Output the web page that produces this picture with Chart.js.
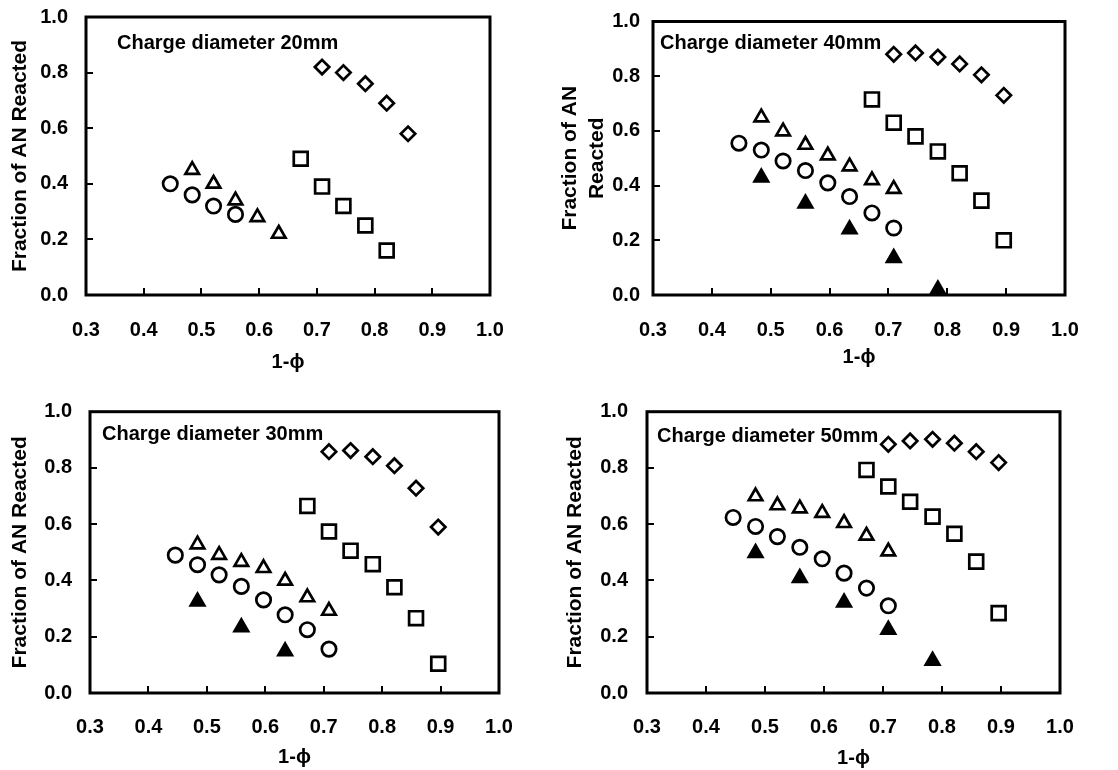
<!DOCTYPE html>
<html>
<head>
<meta charset="utf-8">
<title>Fraction of AN reacted vs 1-phi</title>
<script src="https://cdn.jsdelivr.net/npm/chart.js@4.4.0/dist/chart.umd.min.js"></script>
<style>
  body { margin: 0; background: #fff; }
  canvas { position: absolute; }
</style>
</head>
<body>
<canvas id="d20" width="559" height="385" style="left:0;top:0"></canvas>
<canvas id="d40" width="559" height="385" style="left:559px;top:0"></canvas>
<canvas id="d30" width="559" height="385" style="left:0;top:385px"></canvas>
<canvas id="d50" width="559" height="385" style="left:559px;top:385px"></canvas>
<script>
// 1-phi positions for each marker family
const circleX   = [0.446, 0.484, 0.521, 0.559, 0.597, 0.634, 0.672, 0.709];
const openTriX  = [0.484, 0.521, 0.559, 0.597, 0.634, 0.672, 0.709];
const squareX   = [0.672, 0.709, 0.746, 0.784, 0.821, 0.858, 0.896];
const diamondX  = [0.709, 0.746, 0.784, 0.821, 0.858, 0.896];
const solidTriX = [0.484, 0.559, 0.634, 0.709, 0.784];

// fraction of AN reacted, charge diameter 20mm
const d20Circle   = [0.40, 0.36, 0.32, 0.29];
const d20OpenTri  = [0.45, 0.40, 0.34, 0.28, 0.22];
const d20Square   = [0.49, 0.39, 0.32, 0.25, 0.16];
const d20Diamond  = [0.82, 0.80, 0.76, 0.69, 0.58];
const d20SolidTri = [];

// 40mm
const d40Circle   = [0.555, 0.53, 0.49, 0.455, 0.41, 0.36, 0.30, 0.245];
const d40OpenTri  = [0.649, 0.598, 0.549, 0.51, 0.47, 0.42, 0.388];
const d40Square   = [0.715, 0.63, 0.58, 0.525, 0.445, 0.345, 0.20];
const d40Diamond  = [0.88, 0.885, 0.87, 0.845, 0.805, 0.73];
const d40SolidTri = [0.43, 0.335, 0.24, 0.135, 0.02];

// 30mm
const d30Circle   = [0.49, 0.456, 0.42, 0.379, 0.331, 0.278, 0.225, 0.156];
const d30OpenTri  = [0.528, 0.491, 0.466, 0.444, 0.399, 0.34, 0.292];
const d30Square   = [0.665, 0.574, 0.506, 0.458, 0.376, 0.266, 0.104];
const d30Diamond  = [0.858, 0.862, 0.84, 0.808, 0.728, 0.59];
const d30SolidTri = [0.325, 0.234, 0.148];

// 50mm
const d50Circle   = [0.624, 0.592, 0.556, 0.518, 0.477, 0.426, 0.373, 0.31];
const d50OpenTri  = [0.699, 0.667, 0.656, 0.64, 0.604, 0.559, 0.503];
const d50Square   = [0.793, 0.734, 0.68, 0.627, 0.566, 0.467, 0.284];
const d50Diamond  = [0.884, 0.896, 0.902, 0.888, 0.858, 0.819];
const d50SolidTri = [0.498, 0.409, 0.322, 0.225, 0.115];

const xTicks = [0.3, 0.4, 0.5, 0.6, 0.7, 0.8, 0.9, 1.0];
const yTicks = [0.0, 0.2, 0.4, 0.6, 0.8, 1.0];

const FAMILY = '"Liberation Sans", Arial, sans-serif';
const W = 559, H = 385;

function pts(xs, ys) {
  return ys.map((y, i) => ({ x: xs[i], y: y }));
}

function markerSet(style, radius, fill, xs, ys) {
  return {
    data: pts(xs, ys),
    pointStyle: style,
    pointRadius: radius,
    pointBorderWidth: 2.7,
    pointBorderColor: '#000',
    pointBackgroundColor: fill,
    showLine: false,
    clip: false
  };
}

// heavy box round the plot area, with short inward tick marks
const framePlugin = {
  id: 'frame',
  beforeDatasetsDraw(chart) {
    const { ctx, chartArea: a, scales } = chart;
    ctx.save();
    ctx.strokeStyle = '#000';
    ctx.lineWidth = 2;
    ctx.beginPath();
    scales.x.ticks.forEach(t => {
      const px = Math.round(scales.x.getPixelForValue(t.value));
      ctx.moveTo(px, a.bottom);
      ctx.lineTo(px, a.bottom - 7);
    });
    scales.y.ticks.forEach(t => {
      const py = Math.round(scales.y.getPixelForValue(t.value));
      ctx.moveTo(a.left, py);
      ctx.lineTo(a.left + 7, py);
    });
    ctx.stroke();
    ctx.lineWidth = 3;
    ctx.strokeRect(a.left, a.top, a.right - a.left, a.bottom - a.top);
    ctx.restore();
  }
};

function drawPanel(id, label, s, box) {
  const noteLabel = {
    id: 'note',
    afterDatasetsDraw(chart) {
      const { ctx, chartArea: a } = chart;
      ctx.save();
      ctx.fillStyle = '#000';
      ctx.font = 'bold 20px ' + FAMILY;
      ctx.textBaseline = 'middle';
      ctx.fillText(label, a.left + box.noteDx, a.top + box.noteDy);
      ctx.restore();
    }
  };

  new Chart(document.getElementById(id), {
    type: 'scatter',
    data: {
      datasets: [
        markerSet('rect', 9.8, '#fff', squareX, s.square),
        markerSet('rectRot', 7.2, '#fff', diamondX, s.diamond),
        markerSet('circle', 7.2, '#fff', circleX, s.circle),
        markerSet('triangle', 7.8, '#fff', openTriX, s.openTri),
        markerSet('triangle', 7.8, '#000', solidTriX, s.solidTri)
      ]
    },
    options: {
      responsive: false,
      animation: false,
      devicePixelRatio: 1,
      layout: { padding: { left: 0, top: box.top, right: W - box.right, bottom: 0 } },
      plugins: { legend: { display: false }, tooltip: { enabled: false } },
      scales: {
        x: {
          type: 'linear',
          min: xTicks[0],
          max: xTicks[xTicks.length - 1],
          afterBuildTicks: sc => { sc.ticks = xTicks.map(v => ({ value: v })); },
          ticks: {
            color: '#000',
            padding: box.xTickPad,
            maxRotation: 0,
            autoSkip: false,
            font: { family: FAMILY, size: 20, weight: 'bold' },
            callback: v => v.toFixed(1)
          },
          grid: { display: false, drawTicks: false },
          border: { display: false },
          title: {
            display: true,
            text: '1-\u03D5',
            color: '#000',
            font: { family: FAMILY, size: 20, weight: 'bold' },
            padding: { top: 0, bottom: box.xTitlePad }
          },
          afterFit: sc => {
            sc.height = H - box.bottom;
            sc.paddingLeft = 0;
            sc.paddingRight = 0;
          }
        },
        y: {
          type: 'linear',
          min: yTicks[0],
          max: yTicks[yTicks.length - 1],
          afterBuildTicks: sc => { sc.ticks = yTicks.map(v => ({ value: v })); },
          ticks: {
            color: '#000',
            padding: box.yTickPad,
            font: { family: FAMILY, size: 20, weight: 'bold' },
            callback: v => v.toFixed(1)
          },
          grid: { display: false, drawTicks: false },
          border: { display: false },
          title: {
            display: true,
            text: box.yTitle,
            color: '#000',
            font: { family: FAMILY, size: 21, weight: 'bold', lineHeight: box.yTitleLH },
            padding: { top: box.yTitlePad, bottom: 0 }
          },
          afterFit: sc => {
            sc.width = box.left;
            // keep the end labels from pushing the plot area inwards
            sc.paddingTop = 0;
            sc.paddingBottom = 0;
          }
        }
      }
    },
    plugins: [framePlugin, noteLabel]
  });
}

drawPanel('d20', 'Charge diameter 20mm',
  { circle: d20Circle, openTri: d20OpenTri, square: d20Square, diamond: d20Diamond, solidTri: d20SolidTri },
  { left: 86, top: 17, right: 490, bottom: 295, yTickPad: 18, xTickPad: 23, xTitlePad: 11,
    yTitle: 'Fraction of AN Reacted', yTitleLH: 1.2, yTitlePad: 7.4, noteDx: 31, noteDy: 26 });

drawPanel('d40', 'Charge diameter 40mm',
  { circle: d40Circle, openTri: d40OpenTri, square: d40Square, diamond: d40Diamond, solidTri: d40SolidTri },
  { left: 94, top: 21.5, right: 506, bottom: 295, yTickPad: 13, xTickPad: 23, xTitlePad: 16,
    yTitle: ['Fraction of AN', 'Reacted'], yTitleLH: 1.286, yTitlePad: -2.5, noteDx: 7, noteDy: 22 });

drawPanel('d30', 'Charge diameter 30mm',
  { circle: d30Circle, openTri: d30OpenTri, square: d30Square, diamond: d30Diamond, solidTri: d30SolidTri },
  { left: 90, top: 26.7, right: 499, bottom: 308, yTickPad: 18, xTickPad: 22, xTitlePad: 1,
    yTitle: 'Fraction of AN Reacted', yTitleLH: 1.2, yTitlePad: 7.4, noteDx: 12, noteDy: 23 });

drawPanel('d50', 'Charge diameter 50mm',
  { circle: d50Circle, openTri: d50OpenTri, square: d50Square, diamond: d50Diamond, solidTri: d50SolidTri },
  { left: 88, top: 26.7, right: 501, bottom: 308, yTickPad: 19, xTickPad: 22, xTitlePad: 0,
    yTitle: 'Fraction of AN Reacted', yTitleLH: 1.2, yTitlePad: 3.4, noteDx: 10, noteDy: 25 });
</script>
</body>
</html>
